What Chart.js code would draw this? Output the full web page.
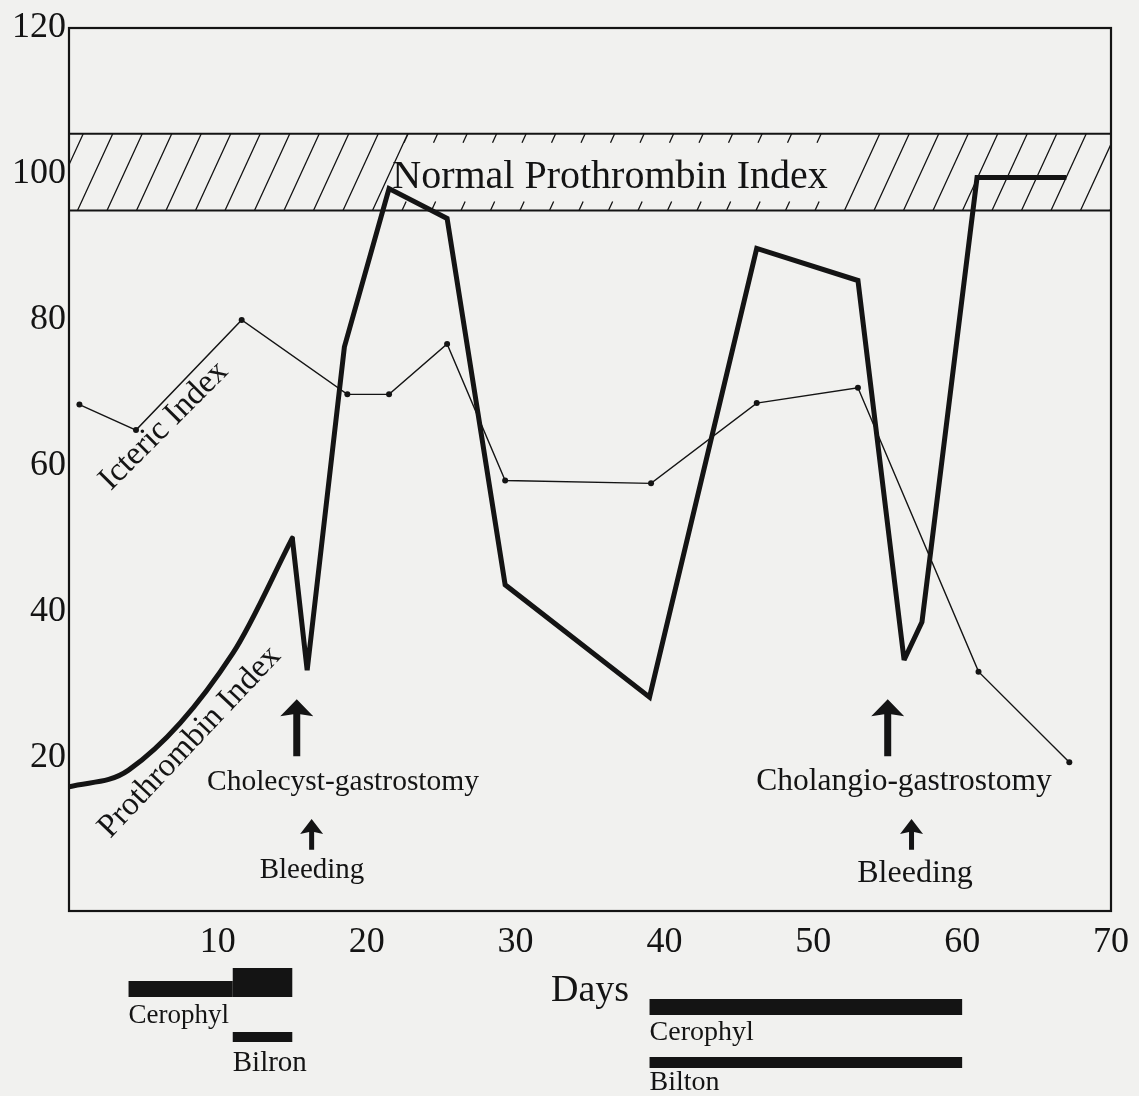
<!DOCTYPE html>
<html><head><meta charset="utf-8">
<script src="https://cdn.jsdelivr.net/npm/chart.js@4"></script>
<style>html,body{margin:0;padding:0;background:#f1f1ef;}canvas{display:block;}</style>
</head><body>
<canvas id="c" width="1139" height="1096"></canvas>
<script>
// ---- data ----
const xTicks = [10, 20, 30, 40, 50, 60, 70];
const yTicks = [20, 40, 60, 80, 100, 120];
const prothrombinEarlyDays = [0, 4, 11, 15];
const prothrombinEarly = [16, 18.3, 34.3, 50.1];
const prothrombinDays = [15, 16, 18.5, 21.5, 25.4, 29.3, 39, 46.2, 53, 56.1, 57.3, 61, 67];
const prothrombin = [50.1, 32, 76.3, 98, 93.9, 43.7, 28.3, 89.8, 85.4, 33.4, 38.6, 99.5, 99.5];
const ictericDays = [0.7, 4.5, 11.6, 18.7, 21.5, 25.4, 29.3, 39.1, 46.2, 53, 61.1, 67.2];
const icteric = [68.4, 64.9, 80, 69.8, 69.8, 76.7, 58, 57.6, 68.6, 70.7, 31.8, 19.4];
const normalBand = [95, 105.5];
const operationDays = [15.3, 55];
const operationLabels = ['Cholecyst-gastrostomy', 'Cholangio-gastrostomy'];
const bleedingDays = [16.3, 56.6];
const cerophylStart = [4, 11, 39];
const cerophylEnd = [11, 15, 60];
const bilronStart = [11, 39];
const bilronEnd = [15, 60];
const bilronLabels = ['Bilron', 'Bilton'];

// ---- styles / layout ----
const INK = '#141414';
const SERIF = '"Liberation Serif", "DejaVu Serif", serif';
const cerophylBands = [{top: 981, bottom: 997}, {top: 968, bottom: 997}, {top: 999, bottom: 1015}];
const bilronBands = [{top: 1032, bottom: 1042}, {top: 1057, bottom: 1068}];

function toPts(xs, ys) { return xs.map((d, i) => ({x: d, y: ys[i]})); }

function arrow(ctx, x, tipY, baseY, headW, headH, shaftW) {
  ctx.beginPath();
  ctx.moveTo(x, tipY);
  ctx.lineTo(x + headW / 2, tipY + headH);
  ctx.lineTo(x + shaftW / 2, tipY + headH - 2);
  ctx.lineTo(x + shaftW / 2, baseY);
  ctx.lineTo(x - shaftW / 2, baseY);
  ctx.lineTo(x - shaftW / 2, tipY + headH - 2);
  ctx.lineTo(x - headW / 2, tipY + headH);
  ctx.closePath();
  ctx.fill();
}

function txt(ctx, s, x, y, size, align, rot) {
  ctx.save();
  ctx.translate(x, y);
  if (rot) ctx.rotate(rot);
  ctx.font = size + 'px ' + SERIF;
  ctx.textAlign = align || 'center';
  ctx.textBaseline = 'alphabetic';
  ctx.fillText(s, 0, 0);
  ctx.restore();
}

const decor = {
  id: 'decor',
  beforeDatasetsDraw(chart) {
    const {ctx, chartArea: a, scales: {x, y}} = chart;
    const yt = y.getPixelForValue(normalBand[1]);
    const yb = y.getPixelForValue(normalBand[0]);
    ctx.save();
    ctx.strokeStyle = INK; ctx.fillStyle = INK;
    ctx.lineWidth = 2;
    ctx.beginPath();
    ctx.moveTo(a.left, yt); ctx.lineTo(a.right, yt);
    ctx.moveTo(a.left, yb); ctx.lineTo(a.right, yb);
    ctx.stroke();
    ctx.save();
    ctx.beginPath(); ctx.rect(a.left, yt, a.right - a.left, yb - yt); ctx.clip();
    const h = yb - yt, dx = h * 0.46, stub = 9;
    ctx.lineWidth = 1.3;
    ctx.beginPath();
    for (let xb = a.left + 38 - 29.5 * 3; xb < a.right + 10; xb += 29.5) {
      if (xb > 385 && xb < 830) {
        ctx.moveTo(xb, yb); ctx.lineTo(xb + dx * stub / h, yb - stub);
        ctx.moveTo(xb + 2, yt + stub); ctx.lineTo(xb + 2 + dx * stub / h, yt);
      } else {
        ctx.moveTo(xb, yb); ctx.lineTo(xb + dx, yt);
      }
    }
    ctx.stroke();
    ctx.restore();
    txt(ctx, 'Normal Prothrombin Index', 610, 188, 40, 'center');
    ctx.restore();
    ctx.save();
    ctx.miterLimit = 2.5;
  },
  afterDatasetsDraw(chart) {
    chart.ctx.restore();
  },
  afterDraw(chart) {
    const {ctx, chartArea: a, scales: {x, y}} = chart;
    ctx.save();
    ctx.strokeStyle = INK; ctx.fillStyle = INK;
    // frame
    ctx.lineWidth = 2.2;
    ctx.strokeRect(a.left, a.top, a.right - a.left, a.bottom - a.top);
    // series labels
    txt(ctx, 'Icteric Index', 170, 432, 33, 'center', -Math.PI / 4);
    txt(ctx, 'Prothrombin Index', 196, 748, 33, 'center', -0.815);
    // operation arrows and labels
    const opText = [{x: 343, y: 790, s: 29.5}, {x: 904, y: 790, s: 31.5}];
    operationDays.forEach((d, i) => {
      const px = x.getPixelForValue(d);
      arrow(ctx, px, y.getPixelForValue(28), y.getPixelForValue(20.2), 33, 17, 7);
      txt(ctx, operationLabels[i], opText[i].x, opText[i].y, opText[i].s, 'center');
    });
    const blText = [{x: 312, y: 878, s: 29}, {x: 915, y: 882, s: 32}];
    bleedingDays.forEach((d, i) => {
      const px = x.getPixelForValue(d);
      arrow(ctx, px, y.getPixelForValue(11.6), y.getPixelForValue(7.4), 23, 15, 5);
      txt(ctx, 'Bleeding', blText[i].x, blText[i].y, blText[i].s, 'center');
    });
    // treatment bars below the axis
    cerophylStart.forEach((s, i) => {
      const x0 = x.getPixelForValue(s), x1 = x.getPixelForValue(cerophylEnd[i]);
      const b = cerophylBands[i];
      ctx.fillRect(x0, b.top, x1 - x0, b.bottom - b.top);
    });
    bilronStart.forEach((s, i) => {
      const x0 = x.getPixelForValue(s), x1 = x.getPixelForValue(bilronEnd[i]);
      const b = bilronBands[i];
      ctx.fillRect(x0, b.top, x1 - x0, b.bottom - b.top);
    });
    txt(ctx, 'Cerophyl', x.getPixelForValue(cerophylStart[0]), 1023, 27, 'left');
    txt(ctx, 'Cerophyl', x.getPixelForValue(cerophylStart[2]), 1040, 28, 'left');
    txt(ctx, bilronLabels[0], x.getPixelForValue(bilronStart[0]), 1071, 29, 'left');
    txt(ctx, bilronLabels[1], x.getPixelForValue(bilronStart[1]), 1090, 28, 'left');
    ctx.restore();
  }
};

new Chart(document.getElementById('c'), {
  type: 'line',
  data: {
    datasets: [
      {label: 'Prothrombin Index (early)', data: toPts(prothrombinEarlyDays, prothrombinEarly),
       borderColor: INK, borderWidth: 5, pointRadius: 0, cubicInterpolationMode: 'monotone', tension: 0.4,
       borderCapStyle: 'round'},
      {label: 'Prothrombin Index', data: toPts(prothrombinDays, prothrombin),
       borderColor: INK, borderWidth: 5, pointRadius: 0, tension: 0, borderJoinStyle: 'miter'},
      {label: 'Icteric Index', data: toPts(ictericDays, icteric),
       borderColor: INK, borderWidth: 1.4, pointRadius: 3, pointBackgroundColor: INK,
       pointBorderColor: INK, pointBorderWidth: 0, tension: 0}
    ]
  },
  options: {
    responsive: false,
    devicePixelRatio: 1,
    animation: false,
    events: [],
    layout: {padding: {left: 0, right: 27, top: 28, bottom: 0}},
    plugins: {legend: {display: false}, tooltip: {enabled: false}},
    scales: {
      x: {
        type: 'linear', min: 0, max: 70,
        afterBuildTicks: (ax) => { ax.ticks = xTicks.map(v => ({value: v})); },
        afterFit: (ax) => { ax.height = 185; },
        grid: {display: false, drawTicks: false},
        border: {display: false},
        ticks: {color: INK, font: {family: SERIF, size: 36}, padding: 10, autoSkip: false, maxRotation: 0},
        title: {display: true, text: 'Days', color: INK, font: {family: SERIF, size: 38}, padding: {top: 0, bottom: 82}}
      },
      y: {
        type: 'linear', min: -1, max: 120,
        afterBuildTicks: (ax) => { ax.ticks = yTicks.map(v => ({value: v})); },
        afterFit: (ax) => { ax.width = 69; },
        grid: {display: false, drawTicks: false},
        border: {display: false},
        ticks: {color: INK, font: {family: SERIF, size: 36}, padding: 3}
      }
    }
  },
  plugins: [decor]
});
</script>
</body></html>
